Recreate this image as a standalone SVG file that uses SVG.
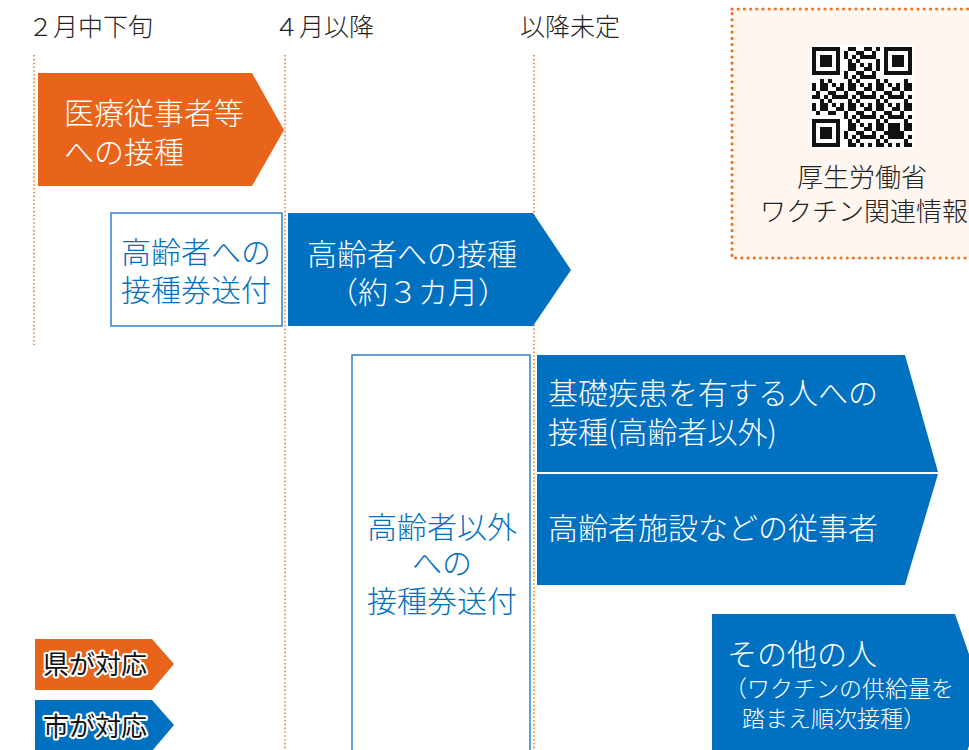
<svg xmlns="http://www.w3.org/2000/svg" width="969" height="750" viewBox="0 0 969 750">
<defs>
<style>
text{font-family:"Noto Sans CJK JP","Noto Sans",sans-serif;font-weight:300;}
.hd{font-size:25px;fill:#222;}
.w{fill:#fff;font-size:30px;}
.b{fill:#0070c0;font-size:30px;}
.s{fill:#fff;font-size:23px;}
.qt{fill:#222;font-size:26px;}
.lg{fill:#111;font-size:26px;font-weight:400;stroke:#fff;stroke-width:4px;paint-order:stroke;stroke-linejoin:round;}
.org{fill:#e8641b;}
.blu{fill:#0070c0;}
.box{fill:#fff;stroke:#2e80c8;stroke-width:1.5;}
.dl{stroke:#f07f2d;stroke-width:1.6;stroke-dasharray:1.6 2.2;fill:none;}
</style>
<pattern id="qrp" x="812" y="47" width="28" height="20" patternUnits="userSpaceOnUse">
<path fill="#111" d="M0 0h4v4h-4zM8 0h8v4h-8zM24 0h4v4h-4zM4 4h4v4h-4zM16 4h8v4h-8zM0 8h8v4h-8zM12 8h4v4h-4zM20 8h8v4h-8zM8 12h4v4h-4zM16 12h4v4h-4zM0 16h4v4h-4zM8 16h8v4h-8zM20 16h4v4h-4z"/>
</pattern>
</defs>
<rect width="969" height="750" fill="#fff"/>

<g id="timeline">
<text class="hd" x="28" y="36">２月中下旬</text>
<text class="hd" x="274" y="36">４月以降</text>
<text class="hd" x="520" y="36">以降未定</text>
</g>

<g id="connectors">
<line class="dl" x1="34" y1="55" x2="34" y2="345"/>
<line class="dl" x1="285" y1="55" x2="285" y2="750"/>
<line class="dl" x1="534" y1="55" x2="534" y2="750"/>
</g>

<g id="qr-info">
<rect x="732" y="9" width="240" height="249" fill="#fef6ef" stroke="#ee7424" stroke-width="3.2" stroke-linecap="round" stroke-dasharray="0 6.2"/>
<rect x="810" y="45" width="104" height="104" fill="#fff"/>
<rect x="812" y="47" width="100" height="100" fill="url(#qrp)"/>
<g fill="#fff"><rect x="812" y="47" width="32" height="32"/><rect x="880" y="47" width="32" height="32"/><rect x="812" y="115" width="32" height="32"/></g>
<g fill="#111">
<path fill-rule="evenodd" d="M812 47h28v28h-28zM816 51v20h20v-20zM820 55h12v12h-12z"/>
<path fill-rule="evenodd" d="M884 47h28v28h-28zM888 51v20h20v-20zM892 55h12v12h-12z"/>
<path fill-rule="evenodd" d="M812 119h28v28h-28zM816 123v20h20v-20zM820 127h12v12h-12z"/>
<path d="M888 123h12v12h-12z M892 127v4h4v-4z" fill-rule="evenodd"/>
</g>
<text class="qt" x="862" y="187" text-anchor="middle">厚生労働省</text>
<text class="qt" x="864" y="221" text-anchor="middle">ワクチン関連情報</text>
</g>

<g id="medical">
<polygon class="org" points="38,73 252,73 284,130 252,186 38,186"/>
<text class="w" x="64" y="124">医療従事者等</text>
<text class="w" x="64" y="163">への接種</text>
</g>

<g id="elderly-ticket">
<rect class="box" x="111" y="213" width="171" height="113"/>
<text class="b" x="196" y="263" text-anchor="middle">高齢者への</text>
<text class="b" x="196" y="301" text-anchor="middle">接種券送付</text>
</g>

<g id="elderly-vacc">
<polygon class="blu" points="288,213 533,213 571,270 533,326 288,326"/>
<text class="w" x="307" y="265">高齢者への接種</text>
<text class="w" x="328" y="303">（約３カ月）</text>
</g>

<g id="other-ticket">
<rect class="box" x="352" y="355" width="178" height="400"/>
<text class="b" x="442" y="538" text-anchor="middle">高齢者以外</text>
<text class="b" x="442" y="574" text-anchor="middle">への</text>
<text class="b" x="442" y="612" text-anchor="middle">接種券送付</text>
</g>

<g id="underlying">
<polygon class="blu" points="537,355 905,355 938,472 537,472"/>
<text class="w" x="548" y="404">基礎疾患を有する人への</text>
<text class="w" x="548" y="443">接種(高齢者以外)</text>
</g>

<g id="facility">
<polygon class="blu" points="537,474 938,474 905,585 537,585"/>
<text class="w" x="548" y="539">高齢者施設などの従事者</text>
</g>

<g id="others">
<polygon class="blu" points="712,614 955,614 985,700 955,786 712,786"/>
<text class="w" x="727" y="665">その他の人</text>
<text class="s" x="724" y="697">（ワクチンの供給量を</text>
<text class="s" x="742" y="727">踏まえ順次接種）</text>
</g>

<g id="legend-pref">
<polygon class="org" points="35,639 152,639 174,664 152,690 35,690"/>
<text class="lg" x="43" y="674">県が対応</text>
</g>
<g id="legend-city">
<polygon class="blu" points="35,700 152,700 174,725 152,751 35,751"/>
<text class="lg" x="43" y="736">市が対応</text>
</g>
</svg>
